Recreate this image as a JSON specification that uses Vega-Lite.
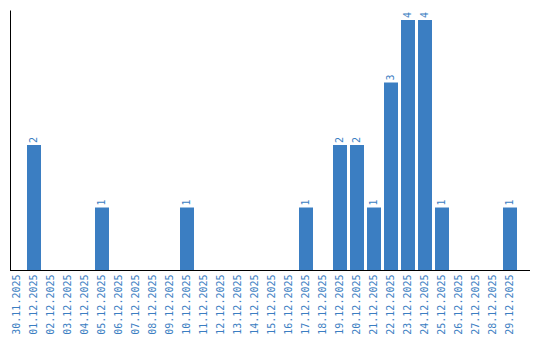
{
  "$schema": "https://vega.github.io/schema/vega-lite/v6.json",
  "autosize": "none",
  "width": 520,
  "height": 260,
  "padding": {"left": 10, "top": 10, "right": 10, "bottom": 70},
  "background": "white",
  "config": {"view": {"stroke": null}},
  "data": {
    "values": [
      {"date": "30.11.2025", "count": 0},
      {"date": "01.12.2025", "count": 2},
      {"date": "02.12.2025", "count": 0},
      {"date": "03.12.2025", "count": 0},
      {"date": "04.12.2025", "count": 0},
      {"date": "05.12.2025", "count": 1},
      {"date": "06.12.2025", "count": 0},
      {"date": "07.12.2025", "count": 0},
      {"date": "08.12.2025", "count": 0},
      {"date": "09.12.2025", "count": 0},
      {"date": "10.12.2025", "count": 1},
      {"date": "11.12.2025", "count": 0},
      {"date": "12.12.2025", "count": 0},
      {"date": "13.12.2025", "count": 0},
      {"date": "14.12.2025", "count": 0},
      {"date": "15.12.2025", "count": 0},
      {"date": "16.12.2025", "count": 0},
      {"date": "17.12.2025", "count": 1},
      {"date": "18.12.2025", "count": 0},
      {"date": "19.12.2025", "count": 2},
      {"date": "20.12.2025", "count": 2},
      {"date": "21.12.2025", "count": 1},
      {"date": "22.12.2025", "count": 3},
      {"date": "23.12.2025", "count": 4},
      {"date": "24.12.2025", "count": 4},
      {"date": "25.12.2025", "count": 1},
      {"date": "26.12.2025", "count": 0},
      {"date": "27.12.2025", "count": 0},
      {"date": "28.12.2025", "count": 0},
      {"date": "29.12.2025", "count": 1}
    ]
  },
  "layer": [
    {
      "mark": {"type": "bar", "color": "#3b7ec2"},
      "encoding": {
        "x": {
          "field": "date",
          "type": "ordinal",
          "sort": null,
          "scale": {"range": [0, 507], "paddingInner": 0.1765, "paddingOuter": 0},
          "axis": {
            "title": null,
            "labelAngle": -90,
            "labelColor": "#3b7ec2",
            "labelFont": "DejaVu Sans Mono",
            "labelFontSize": 10,
            "labelPadding": 4,
            "ticks": false,
            "domain": false,
            "grid": false
          }
        },
        "y": {
          "field": "count",
          "type": "quantitative",
          "scale": {"domain": [0, 4.16], "nice": false},
          "axis": {
            "title": null,
            "labels": false,
            "ticks": false,
            "grid": false,
            "domainColor": "black",
            "domainWidth": 1
          }
        }
      }
    },
    {
      "transform": [{"filter": "datum.count > 0"}],
      "mark": {
        "type": "text",
        "angle": -90,
        "align": "left",
        "baseline": "middle",
        "dx": 2,
        "font": "DejaVu Sans Mono",
        "fontSize": 10,
        "color": "#3b7ec2"
      },
      "encoding": {
        "x": {"field": "date", "type": "ordinal", "sort": null, "band": 0.5},
        "y": {"field": "count", "type": "quantitative"},
        "text": {"field": "count", "type": "quantitative"}
      }
    },
    {
      "mark": {"type": "rule", "color": "black", "strokeWidth": 1, "yOffset": 0.5},
      "encoding": {"y": {"datum": 0}}
    }
  ]
}
